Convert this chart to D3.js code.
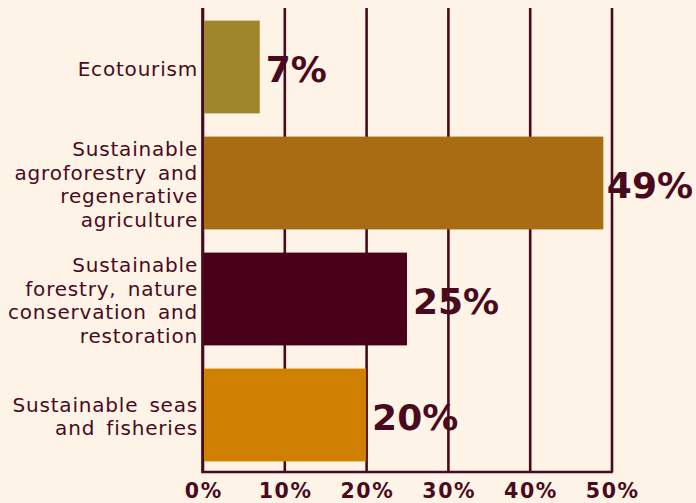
<!DOCTYPE html>
<html>
<head>
<meta charset="utf-8">
<script src="https://cdn.jsdelivr.net/npm/d3@7"></script>
<style>
  html, body { margin: 0; padding: 0; background: #fdf3e6; }
  svg { display: block; }
</style>
</head>
<body>
<svg id="chart" width="696" height="503"></svg>
<script>
// Share of projects by theme
const categories = [
  "Ecotourism",
  "Sustainable\nagroforestry and\nregenerative\nagriculture",
  "Sustainable\nforestry, nature\nconservation and\nrestoration",
  "Sustainable seas\nand fisheries"
];
const values = [7, 49, 25, 20];
const barColors = ["#a0862a", "#a86d12", "#4a0019", "#d08000"];
const tickValues = [0, 10, 20, 30, 40, 50];

const ink = "#4a0a1e";
const width = 696;
const svg = d3.select("#chart");

const x = d3.scaleLinear().domain([0, 50]).range([202.5, 611.5]);
const y = d3.scaleBand().domain(categories).range([9, 473])
  .paddingInner(0.2).paddingOuter(0.1);
const plotTop = 8, plotBottom = 472;

const rows = categories.map((c, i) => ({ cat: c, value: values[i], color: barColors[i] }));

// value labels sit under the gridlines; keep them inside the canvas
svg.append("g").selectAll("text").data(rows).join("text")
  .attr("y", d => y(d.cat) + y.bandwidth() / 2 + 14.5)
  .attr("font-family", "DejaVu Sans")
  .attr("font-weight", "bold")
  .attr("font-size", 36)
  .attr("fill", ink)
  .text(d => d.value + "%")
  .attr("x", function (d) {
    const w = this.getComputedTextLength();
    return Math.min(x(d.value) + 6, width - 3 - w);
  });

// vertical gridlines with percent tick labels
const axis = d3.axisBottom(x).tickValues(tickValues)
  .tickSize(plotBottom - plotTop).tickPadding(0)
  .tickFormat(d => d + "%");
const gAxis = svg.append("g").attr("transform", `translate(0,${plotTop})`).call(axis);
gAxis.select(".domain").remove();
gAxis.selectAll(".tick line").attr("stroke", ink).attr("stroke-width", 2.6);
gAxis.selectAll(".tick text")
  .attr("y", 0)
  .attr("dy", null)
  .attr("transform", `translate(0.8,${498 - plotTop})`)
  .attr("font-family", "DejaVu Sans")
  .attr("font-weight", "bold")
  .attr("font-size", 20.5)
  .attr("letter-spacing", 1.6)
  .attr("fill", ink);

// bars
svg.append("g").selectAll("rect").data(rows).join("rect")
  .attr("x", x(0) + 1.5)
  .attr("y", d => y(d.cat))
  .attr("width", d => x(d.value) - x(0) - 1.5)
  .attr("height", y.bandwidth())
  .attr("fill", d => d.color);

// left and bottom axis lines
svg.append("path")
  .attr("d", `M${x(0)},${plotTop}V${plotBottom}H${x(50) + 1.3}`)
  .attr("fill", "none").attr("stroke", ink).attr("stroke-width", 2.6);

// category labels, right aligned and wrapped
const lineH = 23.8;
const labels = svg.append("g").selectAll("text").data(rows).join("text")
  .attr("text-anchor", "end")
  .attr("font-family", "DejaVu Sans")
  .attr("font-size", 20)
  .attr("letter-spacing", 0.8)
  .attr("word-spacing", 4)
  .attr("fill", ink);
labels.each(function (d) {
  const lines = d.cat.split("\n");
  const cy = y(d.cat) + y.bandwidth() / 2;
  const firstBase = cy + 8.5 - (lines.length - 1) * lineH / 2;
  d3.select(this).selectAll("tspan").data(lines).join("tspan")
    .attr("x", 198)
    .attr("y", (l, i) => firstBase + i * lineH)
    .text(l => l);
});
</script>
</body>
</html>
